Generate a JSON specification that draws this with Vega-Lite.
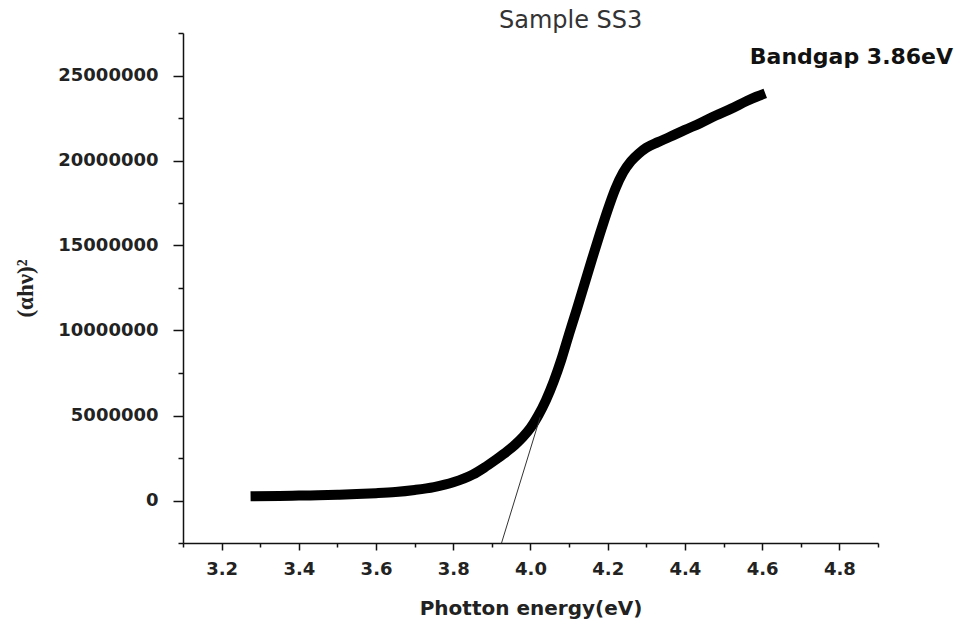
{
  "$schema": "https://vega.github.io/schema/vega-lite/v6.json",
  "autosize": {"type": "none"},
  "width": 695,
  "height": 510,
  "padding": {"left": 183, "top": 33, "right": 79, "bottom": 84},
  "background": "white",
  "title": {
    "text": "Sample SS3",
    "anchor": "start",
    "frame": "group",
    "dx": 316,
    "offset": -9,
    "font": "DejaVu Sans",
    "fontSize": 24,
    "fontWeight": "normal",
    "color": "#333333"
  },
  "datasets": {
    "curve": [
      {"e": 3.275, "v": 250000},
      {"e": 3.35, "v": 270000},
      {"e": 3.40, "v": 290000},
      {"e": 3.45, "v": 310000},
      {"e": 3.50, "v": 340000},
      {"e": 3.55, "v": 380000},
      {"e": 3.60, "v": 430000},
      {"e": 3.65, "v": 500000},
      {"e": 3.70, "v": 620000},
      {"e": 3.75, "v": 790000},
      {"e": 3.80, "v": 1070000},
      {"e": 3.85, "v": 1520000},
      {"e": 3.88, "v": 1930000},
      {"e": 3.91, "v": 2400000},
      {"e": 3.94, "v": 2900000},
      {"e": 3.96, "v": 3280000},
      {"e": 3.98, "v": 3730000},
      {"e": 4.00, "v": 4270000},
      {"e": 4.02, "v": 5000000},
      {"e": 4.04, "v": 5900000},
      {"e": 4.06, "v": 7000000},
      {"e": 4.08, "v": 8300000},
      {"e": 4.10, "v": 9800000},
      {"e": 4.12, "v": 11250000},
      {"e": 4.14, "v": 12750000},
      {"e": 4.16, "v": 14250000},
      {"e": 4.18, "v": 15700000},
      {"e": 4.20, "v": 17100000},
      {"e": 4.22, "v": 18350000},
      {"e": 4.24, "v": 19300000},
      {"e": 4.26, "v": 19950000},
      {"e": 4.28, "v": 20400000},
      {"e": 4.30, "v": 20750000},
      {"e": 4.33, "v": 21080000},
      {"e": 4.36, "v": 21380000},
      {"e": 4.40, "v": 21800000},
      {"e": 4.44, "v": 22200000},
      {"e": 4.48, "v": 22650000},
      {"e": 4.52, "v": 23050000},
      {"e": 4.56, "v": 23500000},
      {"e": 4.585, "v": 23750000},
      {"e": 4.608, "v": 23950000}
    ],
    "tangent": [
      {"e": 3.925, "v": -2500000},
      {"e": 4.025, "v": 4900000}
    ],
    "note": [
      {"e": 4.568, "v": 25650000, "label": "Bandgap 3.86eV"}
    ]
  },
  "encoding": {
    "x": {
      "field": "e",
      "type": "quantitative",
      "scale": {"domain": [3.1, 4.9], "nice": false, "zero": false},
      "axis": {
        "title": "Photton energy(eV)",
        "values": [3.1, 3.2, 3.3, 3.4, 3.5, 3.6, 3.7, 3.8, 3.9, 4.0, 4.1, 4.2, 4.3, 4.4, 4.5, 4.6, 4.7, 4.8, 4.9],
        "labelExpr": "abs(datum.value*5 - round(datum.value*5)) < 0.001 ? format(datum.value, '.1f') : ''",
        "tickSize": {"condition": {"test": "abs(datum.value*5 - round(datum.value*5)) < 0.001", "value": 7}, "value": 4},
        "labelPadding": 10,
        "titlePadding": 20
      }
    },
    "y": {
      "field": "v",
      "type": "quantitative",
      "scale": {"domain": [-2500000, 27500000], "nice": false, "zero": false},
      "axis": {
        "title": "(αhν)²",
        "titleFont": "Liberation Serif",
        "titleFontSize": 23,
        "values": [-2500000, 0, 2500000, 5000000, 7500000, 10000000, 12500000, 15000000, 17500000, 20000000, 22500000, 25000000, 27500000],
        "labelExpr": "datum.value % 5000000 == 0 ? format(datum.value, 'd') : ''",
        "tickSize": {"condition": {"test": "datum.value % 5000000 == 0", "value": 10}, "value": 5},
        "labelPadding": 15,
        "titlePadding": 20
      }
    }
  },
  "layer": [
    {
      "data": {"name": "curve"},
      "mark": {"type": "line", "color": "#000000", "strokeWidth": 10, "strokeCap": "butt", "strokeJoin": "round", "interpolate": "monotone", "clip": false}
    },
    {
      "data": {"name": "tangent"},
      "mark": {"type": "line", "color": "#333333", "strokeWidth": 1}
    },
    {
      "data": {"name": "note"},
      "mark": {"type": "text", "align": "left", "baseline": "alphabetic", "font": "DejaVu Sans", "fontSize": 22, "fontWeight": "bold", "color": "#111111"},
      "encoding": {"text": {"field": "label"}}
    }
  ],
  "config": {
    "view": {"stroke": null},
    "axis": {
      "grid": false,
      "domainColor": "#111111",
      "domainWidth": 1.5,
      "tickColor": "#111111",
      "tickWidth": 1.5,
      "labelFont": "DejaVu Sans",
      "labelFontWeight": "bold",
      "labelFontSize": 18,
      "labelColor": "#222222",
      "labelOverlap": false,
      "labelFlush": false,
      "titleFont": "DejaVu Sans",
      "titleFontWeight": "bold",
      "titleFontSize": 20,
      "titleColor": "#222222"
    }
  }
}
